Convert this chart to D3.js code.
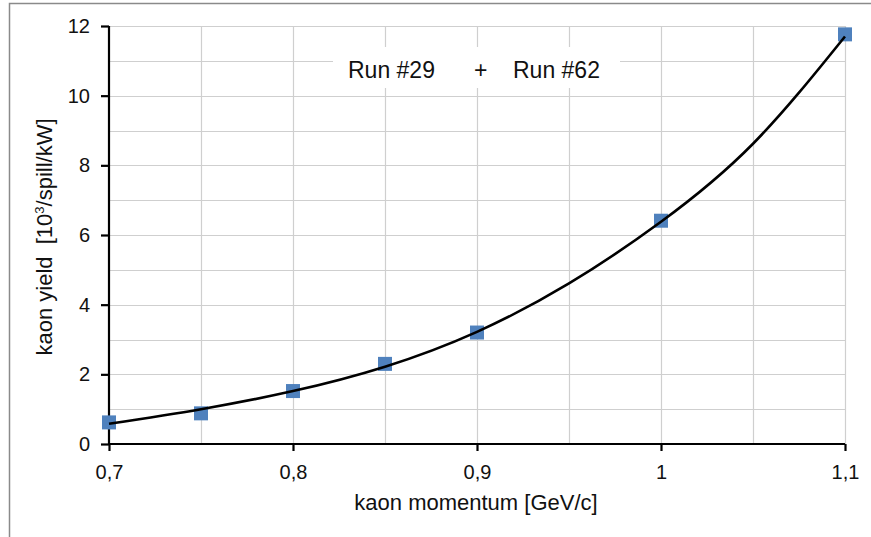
<!DOCTYPE html>
<html><head><meta charset="utf-8">
<script src="https://cdn.jsdelivr.net/npm/d3@7"></script>
<style>
html,body{margin:0;padding:0;background:#fff;}
svg{display:block;font-family:"Liberation Sans",Arial,sans-serif;}
</style></head>
<body>
<svg id="chart" width="871" height="537"></svg>
<script>
// measured points
const momentum = [0.7, 0.75, 0.8, 0.85, 0.9, 1.0, 1.1];
const kaonYield = [0.62, 0.88, 1.52, 2.30, 3.20, 6.41, 11.76];
// trend curve
const fitMomentum = [0.7, 0.75, 0.8, 0.85, 0.9, 0.95, 1.0, 1.05, 1.1];
const fitYield = [0.58, 1.0, 1.52, 2.22, 3.22, 4.61, 6.38, 8.62, 11.7];
// axis ticks
const xTicks = [0.7, 0.8, 0.9, 1.0, 1.1];
const xTickLabels = ["0,7", "0,8", "0,9", "1", "1,1"];
const xGrid = [0.75, 0.8, 0.85, 0.9, 0.95, 1.0, 1.05, 1.1];
const yTicks = [0, 2, 4, 6, 8, 10, 12];
const yGrid = [1, 2, 3, 4, 5, 6, 7, 8, 9, 10, 11, 12];
const legendItems = ["Run #29", "+", "Run #62"];

const svg = d3.select("#chart");
const x = d3.scaleLinear().domain([0.7, 1.1]).range([109, 845]);
const y = d3.scaleLinear().domain([0, 12]).range([444, 26]);

// outer border (partly clipped)
svg.append("path").attr("d", "M9.5,540 L9.5,3.5 L880,3.5")
  .attr("fill", "none").attr("stroke", "#8a8a8a").attr("stroke-width", 1.5);

// gridlines
svg.append("g").selectAll("line").data(yGrid).join("line")
  .attr("x1", x(0.7)).attr("x2", x(1.1))
  .attr("y1", d => Math.round(y(d)) + 0.5).attr("y2", d => Math.round(y(d)) + 0.5)
  .attr("stroke", "#cfcfcf").attr("stroke-width", 1.2);
svg.append("g").selectAll("line").data(xGrid).join("line")
  .attr("y1", y(0)).attr("y2", y(12))
  .attr("x1", d => Math.round(x(d)) + 0.5).attr("x2", d => Math.round(x(d)) + 0.5)
  .attr("stroke", "#cfcfcf").attr("stroke-width", 1.2);

// legend box
svg.append("rect").attr("x", 333).attr("y", 47).attr("width", 287).attr("height", 41).attr("fill", "#fff");
const legendX = [348, 474, 513];
svg.append("g").selectAll("text").data(legendItems).join("text")
  .attr("x", (d, i) => legendX[i]).attr("y", 77.5)
  .attr("font-size", 23).attr("fill", "#111").text(d => d);

// axes
const xAxis = d3.axisBottom(x).tickValues(xTicks).tickSize(7).tickPadding(14)
  .tickFormat((d, i) => xTickLabels[i]);
const gx = svg.append("g").attr("transform", `translate(0,${y(0)})`).call(xAxis);
const yAxis = d3.axisLeft(y).tickValues(yTicks).tickSize(8).tickPadding(11);
const gy = svg.append("g").attr("transform", `translate(${x(0.7)},0)`).call(yAxis);
[gx, gy].forEach(g => {
  g.select(".domain").attr("stroke", "#000").attr("stroke-width", 2.2);
  g.selectAll(".tick line").attr("stroke", "#000").attr("stroke-width", 2.2);
  g.selectAll(".tick text").attr("font-size", 20).attr("fill", "#111")
    .attr("font-family", "Liberation Sans, Arial, sans-serif");
});
gx.select(".domain").attr("d", `M${x(0.7)},0H${x(1.1)}`);
gy.select(".domain").attr("d", `M0,${y(0)}V${y(12)}`);

// markers
svg.append("g").selectAll("rect").data(momentum).join("rect")
  .attr("x", d => x(d) - 7).attr("y", (d, i) => y(kaonYield[i]) - 7)
  .attr("width", 14).attr("height", 14).attr("fill", "#4f81bd");

// trend curve
const line = d3.line().x(d => x(d[0])).y(d => y(d[1])).curve(d3.curveNatural);
svg.append("path").datum(fitMomentum.map((m, i) => [m, fitYield[i]]))
  .attr("d", line).attr("fill", "none").attr("stroke", "#000").attr("stroke-width", 2.6);

// axis titles
svg.append("text").attr("x", 476).attr("y", 510).attr("text-anchor", "middle")
  .attr("font-size", 22).attr("fill", "#111")
  .text("kaon momentum [GeV/c]");
const yt = svg.append("text").attr("transform", "translate(52,237) rotate(-90)")
  .attr("text-anchor", "middle").attr("font-size", 22).attr("fill", "#111");
yt.append("tspan").text("kaon yield\u00a0 [10");
yt.append("tspan").attr("font-size", 13).attr("dy", -8).text("3");
yt.append("tspan").attr("dy", 8).text("/spill/kW]");
</script>
</body></html>
